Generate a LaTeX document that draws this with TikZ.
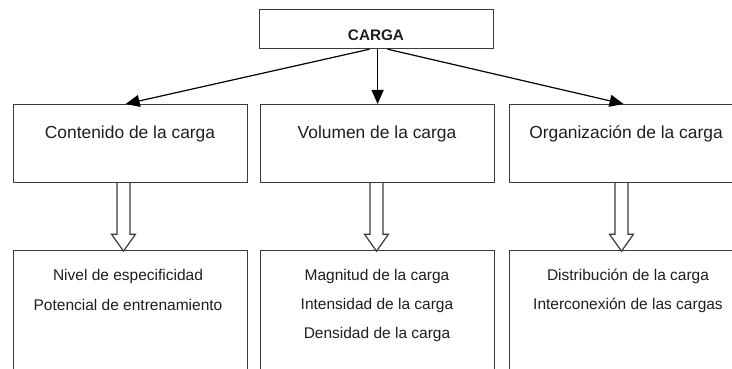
\documentclass[tikz,border=0pt]{standalone}
\usepackage{fontspec}
\setmainfont{Liberation Sans}
\usetikzlibrary{arrows.meta}
\definecolor{boxcol}{HTML}{3A3A3A}
\definecolor{txtcol}{HTML}{1E1E1E}
\begin{document}
\begin{tikzpicture}[x=1pt,y=-1pt,
  box/.style={draw=boxcol, line width=1.2pt, anchor=north west, inner sep=0pt, minimum width=234pt},
  midbox/.style={box, minimum height=78pt},
  lowbox/.style={box, minimum height=130pt},
  lbl/.style={text=txtcol, inner sep=0pt, font=\fontsize{17.4}{20}\selectfont},
  item/.style={text=txtcol, inner sep=0pt, font=\fontsize{15.5}{18}\selectfont},
  arr/.style={line width=1.2pt, -{Triangle[length=14pt,width=12pt]}},
  harrow/.style={draw=boxcol, line width=1.2pt, fill=white, line join=miter}]
\useasboundingbox (0,0) rectangle (732,369);
\clip (0,0) rectangle (732,369);
% top box
\node[box, minimum height=39pt] (carga) at (259,9) {};
\node[text=txtcol, inner sep=0pt, font=\bfseries\fontsize{15.3}{18}\selectfont] (cargat) at (376,35) {CARGA};
% middle row
\node[midbox] (cont) at (13,104) {};
\node[midbox] (vol) at (260,104) {};
\node[midbox, minimum width=240pt] (org) at (509,104) {};
\node[lbl] (contt) at (130,134) {Contenido de la carga};
\node[lbl] (volt) at (377,134) {Volumen de la carga};
\node[lbl] (orgt) at (626,134) {Organización de la carga};
% bottom row
\node[lowbox] (niv) at (13,250) {};
\node[lowbox] (mag) at (260,250) {};
\node[lowbox, minimum width=240pt] (dis) at (509,250) {};
\node[item] (n1) at (128,276) {Nivel de especificidad};
\node[item] (n2) at (128,305) {Potencial de entrenamiento};
\node[item] (m1) at (377,276) {Magnitud de la carga};
\node[item] (m2) at (377,305) {Intensidad de la carga};
\node[item] (m3) at (377,334) {Densidad de la carga};
\node[item] (d1) at (628,276) {Distribución de la carga};
\node[item] (d2) at (628,305) {Interconexión de las cargas};
% arrows from CARGA
\draw[arr] ([xshift=-7pt]carga.south) -- ([xshift=-5pt]cont.north);
\draw[arr] ([xshift=1pt]carga.south) -- (vol.north);
\draw[arr] ([xshift=11pt]carga.south) -- ([xshift=-6pt]org.north);
% hollow arrows
\coordinate (h1) at (123.5,0);
\coordinate (h2) at (376.5,0);
\coordinate (h3) at (621.5,0);
\foreach \h/\a in {h1/cont, h2/vol, h3/org}{
  \draw[harrow] (\a.south -| \h) ++(-6.5,0) -- ++(0,51) -- ++(-5.5,0) -- ++(12,17) -- ++(12,-17) -- ++(-5.5,0) -- ++(0,-51);
}
\end{tikzpicture}
\end{document}
